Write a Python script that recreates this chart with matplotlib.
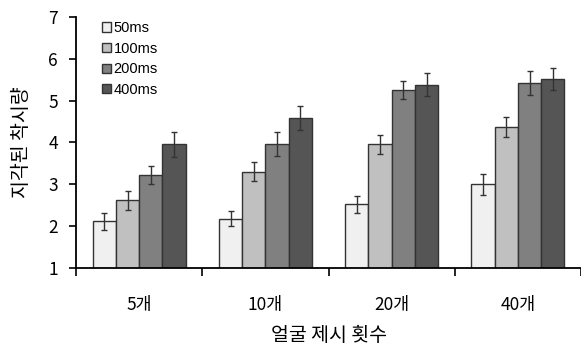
import numpy as np
import matplotlib.pyplot as plt

plt.rcParams['font.family'] = ['Noto Sans CJK KR', 'DejaVu Sans']

groups = ['5개', '10개', '20개', '40개']
series = ['50ms', '100ms', '200ms', '400ms']
colors = ['#f0f0f0', '#c0c0c0', '#808080', '#555555']

vals = {
    '50ms': [2.12, 2.18, 2.52, 3.00],
    '100ms': [2.62, 3.30, 3.96, 4.36],
    '200ms': [3.22, 3.96, 5.25, 5.42],
    '400ms': [3.96, 4.58, 5.38, 5.52],
}
errs = {
    '50ms': [0.20, 0.18, 0.20, 0.25],
    '100ms': [0.23, 0.23, 0.23, 0.24],
    '200ms': [0.22, 0.28, 0.22, 0.28],
    '400ms': [0.30, 0.28, 0.28, 0.27],
}

fig = plt.figure(figsize=(5.81, 3.45), dpi=100)
ax = fig.add_axes([0.131, 0.223, 0.869, 0.728])

x = np.arange(len(groups))
w = 0.184
for i, s in enumerate(series):
    ax.bar(x + (i - 1.5) * w, vals[s], w, bottom=0, color=colors[i],
           edgecolor='#333333', linewidth=1.0, label=s,
           yerr=errs[s], error_kw=dict(ecolor='#333333', elinewidth=1.0,
                                       capsize=2.5, capthick=1.0))

ax.set_ylim(1, 7)
ax.set_xlim(-0.5, 3.445)
ax.set_yticks(range(1, 8))
ax.set_xticks(x)
ax.set_xticklabels(groups)
ax.set_xticks(np.arange(-0.5, 4, 1), minor=True)
ax.tick_params(axis='x', which='major', length=0, pad=20, labelsize=12.5)
ax.tick_params(axis='x', which='minor', length=6, width=1.2, direction='out')
ax.tick_params(axis='y', length=5, width=1.2, labelsize=12.5, pad=8)

for sp in ['top', 'right']:
    ax.spines[sp].set_visible(False)
for sp in ['left', 'bottom']:
    ax.spines[sp].set_linewidth(1.3)

ax.set_xlabel('얼굴 제시 횟수', fontsize=14, labelpad=8)
ax.set_ylabel('지각된 착시량', fontsize=14, labelpad=12)

leg = ax.legend(loc='upper left', bbox_to_anchor=(0.025, 1.035), frameon=False,
                handlelength=0.6, handleheight=0.6, handletextpad=0.2,
                labelspacing=0.45, prop={'family': 'Liberation Sans', 'size': 10.5})

fig.savefig('out.png')
